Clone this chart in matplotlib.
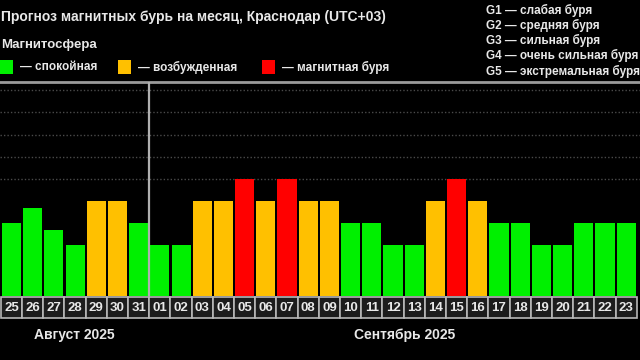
import matplotlib
matplotlib.use("Agg")
import matplotlib.pyplot as plt
from matplotlib.patches import Rectangle
import matplotlib.transforms as mtransforms

plt.rcParams['font.family'] = ['Liberation Sans', 'DejaVu Sans']

days = ["25", "26", "27", "28", "29", "30", "31",
        "01", "02", "03", "04", "05", "06", "07", "08", "09", "10", "11",
        "12", "13", "14", "15", "16", "17", "18", "19", "20", "21", "22", "23"]
kp = [3, 3.67, 2.67, 2, 4, 4, 3,
      2, 2, 4, 4, 5, 4, 5, 4, 4, 3, 3,
      2, 2, 4, 5, 4, 3, 3, 2, 2, 3, 3, 3]
# 0 - спокойная, 1 - возбужденная, 2 - магнитная буря
state = [0, 0, 0, 0, 1, 1, 0,
         0, 0, 1, 1, 2, 1, 2, 1, 1, 0, 0,
         0, 0, 1, 2, 1, 0, 0, 0, 0, 0, 0, 0]
state_colors = ["#00f000", "#ffc000", "#ff0000"]
state_labels = ["— спокойная", "— возбужденная", "— магнитная буря"]
g_scale = ["G1 — слабая буря", "G2 — средняя буря", "G3 — сильная буря",
           "G4 — очень сильная буря", "G5 — экстремальная буря"]
months = ["Август 2025", "Сентябрь 2025"]
n_aug = 7

base = -0.32
txt = "#e8e8e8"
fig = plt.figure(figsize=(6.4, 3.6), dpi=100, facecolor="black")
ax = fig.add_axes([0, 1 - 296 / 360, 1, 214 / 360])
ax.set_facecolor("black")

x = list(range(len(days)))
ax.bar(x, [v - base for v in kp], width=0.9, bottom=base,
       color=[state_colors[s] for s in state], zorder=3)
for g in [5, 6, 7, 8, 9]:
    ax.axhline(g, color="#4a4a4a", lw=1, ls=(0, (1, 1.5)), zorder=1)
ax.set_xlim(-0.54, 29.65)
ax.set_ylim(base, 9.38)
ax.axis("off")

# top border and month separator
ax.axhline(9.38, color="#9a9a9a", lw=2, clip_on=False, zorder=4)
ax.axvline(n_aug - 0.5, color="#b0b0b0", lw=1.6, zorder=4)

# day cells
trans = mtransforms.blended_transform_factory(ax.transData, ax.transAxes)
for i, d in enumerate(days):
    ax.add_patch(Rectangle((i - 0.5, -0.105), 1.0, 0.1, transform=trans,
                           facecolor="#1c1c1c", edgecolor="#b8b8b8",
                           lw=1.2, clip_on=False))
    ax.text(i, -0.055, d, transform=trans, ha="center", va="center",
            color=txt, fontsize=9.5, fontweight="bold")

# month labels
ax.text(2.95, -0.18, months[0], transform=trans,
        ha="center", va="center", color=txt, fontsize=10, fontweight="bold")
ax.text(18.55, -0.18, months[1], transform=trans,
        ha="center", va="center", color=txt, fontsize=10, fontweight="bold")

# header
fig.text(1 / 640, 1 - 17 / 360, "Прогноз магнитных бурь на месяц, Краснодар (UTC+03)",
         color=txt, fontsize=10, va="center", ha="left", fontweight="bold")
fig.text(1 / 640, 1 - 45 / 360, "Магнитосфера", color=txt, fontsize=9.5,
         va="center", ha="left", fontweight="bold")
leg_x = [0, 118, 262]
for lx, c, lab in zip(leg_x, state_colors, state_labels):
    fig.patches.append(Rectangle((lx / 640, 1 - 74 / 360), 13 / 640, 14 / 360,
                                 transform=fig.transFigure, facecolor=c))
    fig.text((lx + 20) / 640, 1 - 67 / 360, lab, color=txt, fontsize=8.5,
             va="center", ha="left", fontweight="bold")
for k, g in enumerate(g_scale):
    fig.text(486 / 640, 1 - (10 + 15.3 * k) / 360, g, color=txt, fontsize=8.5,
             va="center", ha="left", fontweight="bold")

fig.savefig("out.png", dpi=100, facecolor="black")
